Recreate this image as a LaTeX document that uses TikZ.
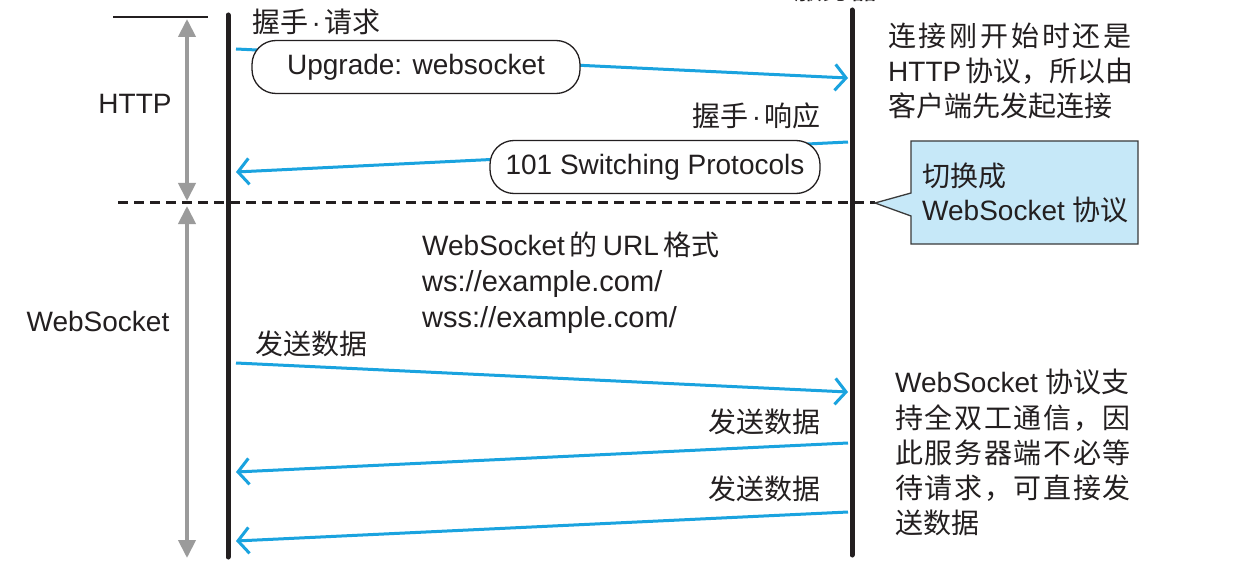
\documentclass[tikz,border=0pt]{standalone}
\usepackage{fontspec}
\setmainfont{Liberation Sans}
\newfontfamily\cjk{Noto Sans CJK SC}
\newfontfamily\cjkj[LetterSpace=10]{Noto Sans CJK SC}
\newfontfamily\cjkk[LetterSpace=6]{Noto Sans CJK SC}
\usetikzlibrary{arrows.meta}
\definecolor{msgcyan}{HTML}{1AA3DF}
\definecolor{inkblack}{HTML}{231F20}
\definecolor{spangray}{HTML}{9B9B9B}
\definecolor{calloutblue}{HTML}{C6E8F8}
\definecolor{calloutedge}{HTML}{3A3A3A}
\newcommand{\mdot}{\kern3.5pt·\kern3.5pt}
\tikzset{
  txt/.style={font=\fontsize{28}{34}\selectfont, inner sep=0pt, text=inkblack},
  urltxt/.style={font=\fontsize{29}{34}\selectfont, inner sep=0pt, text=inkblack},
  lifeline/.style={draw=inkblack, line width=5pt, line cap=round},
  msg/.style={draw=msgcyan, line width=3pt, -{Straight Barb[length=11pt,width=26pt]}},
  span/.style={draw=spangray, line width=4pt, {Triangle[length=18pt,width=17pt]}-{Triangle[length=18pt,width=17pt]}},
  pill/.style={draw=inkblack, line width=1.3pt, rounded corners=24pt, fill=white, minimum height=53pt, inner sep=0pt, font=\fontsize{28}{34}\selectfont, text=inkblack},
  phase/.style={draw=inkblack, line width=3pt, dash pattern=on 10pt off 6pt},
}
\begin{document}
\begin{tikzpicture}[x=1pt,y=-1pt]
\useasboundingbox (0,0) rectangle (1247,572);
\fill[white] (0,0) rectangle (1247,572);

% server label, cut off at the top edge as in the reference
\begin{scope}
\clip (0,0) rectangle (1247,572);
\node[txt, anchor=base] (srvlabel) at (836,0) {\cjk 服务器};
\end{scope}

% phase separator
\coordinate (dashL) at (118,203);
\coordinate (dashR) at (875,203);
\draw[phase] (dashL) -- (dashR);

% lifelines
\coordinate (ctop) at (228,15);
\coordinate (cbot) at (228,557);
\coordinate (stop) at (852,10);
\coordinate (sbot) at (852,555);
\draw[lifeline] (ctop) -- (cbot);
\draw[lifeline] (stop) -- (sbot);

% top tick and phase spans
\coordinate (tickL) at (113,17);
\coordinate (tickR) at (208,17);
\draw[inkblack, line width=2pt] (tickL) -- (tickR);
\coordinate (h1) at (187,19);
\coordinate (h2) at (187,201);
\coordinate (w1) at (187,206);
\coordinate (w2) at (187,558);
\draw[span] (h1) -- (h2);
\draw[span] (w1) -- (w2);
\node[txt] (httplbl) at (135,104) {HTTP};
\node[txt] (wslbl) at (98,321) {WebSocket};

% handshake request
\coordinate (r1s) at (236,49);
\coordinate (r1e) at (848,78);
\draw[msg] (r1s) -- (r1e);
\node[txt, anchor=base west] (reqlbl) at (252,33) {{\cjk 握手}\mdot{\cjk 请求}};
\node[pill, minimum width=328pt] (upg) at (416,67) {Upgrade: websocket};

% handshake response
\coordinate (r2s) at (848,142);
\coordinate (r2e) at (236,172);
\draw[msg] (r2s) -- (r2e);
\node[txt, anchor=base east] (reslbl) at (821,127) {{\cjk 握手}\mdot{\cjk 响应}};
\node[pill, minimum width=330pt] (sw) at (655,167) {101 Switching Protocols};

% note top right
\node[txt, anchor=base west] (n1) at (888,47) {\cjkj 连接刚开始时还是};
\node[txt, anchor=base west] (n2) at (888,82) {HTTP\,{\cjk 协议，所以由}};
\node[txt, anchor=base west] (n3) at (888,117) {\cjk 客户端先发起连接};

% callout
\coordinate (cbA) at (911,141);
\coordinate (cbB) at (1138,141);
\coordinate (cbC) at (1138,244);
\coordinate (cbD) at (911,244);
\coordinate (cbE) at (911,216);
\coordinate (cbTip) at (875,203);
\coordinate (cbF) at (911,193);
\draw[fill=calloutblue, draw=calloutedge, line width=1.3pt, line join=miter]
  (cbA) -- (cbB) -- (cbC) -- (cbD) -- (cbE) -- (cbTip) -- (cbF) -- cycle;
\node[txt, anchor=base west] (c1) at (922,186) {\cjk 切换成};
\node[txt, anchor=base west] (c2) at (922,221) {WebSocket {\cjk 协议}};

% URL format
\node[txt, anchor=base west] (u1) at (422,255) {WebSocket\kern5pt{\cjk 的}\kern5pt URL\kern5pt{\cjk 格式}};
\node[urltxt, anchor=base west] (u2) at (422,291) {ws://example.com/};
\node[urltxt, anchor=base west] (u3) at (422,327) {wss://example.com/};

% data messages
\coordinate (d1s) at (236,363);
\coordinate (d1e) at (848,392);
\draw[msg] (d1s) -- (d1e);
\node[txt, anchor=base west] (d1lbl) at (255,354) {\cjk 发送数据};

\coordinate (d2s) at (848,443);
\coordinate (d2e) at (236,472);
\draw[msg] (d2s) -- (d2e);
\node[txt, anchor=base east] (d2lbl) at (821,432) {\cjk 发送数据};

\coordinate (d3s) at (848,512);
\coordinate (d3e) at (236,541);
\draw[msg] (d3s) -- (d3e);
\node[txt, anchor=base east] (d3lbl) at (821,499) {\cjk 发送数据};

% note bottom right
\node[txt, anchor=base west] (m1) at (895,392) {WebSocket {\cjk 协议支}};
\node[txt, anchor=base west] (m2) at (895,428) {\cjkk 持全双工通信，因};
\node[txt, anchor=base west] (m3) at (895,463) {\cjkk 此服务器端不必等};
\node[txt, anchor=base west] (m4) at (895,498) {\cjkk 待请求，可直接发};
\node[txt, anchor=base west] (m5) at (895,533) {\cjk 送数据};
\end{tikzpicture}
\end{document}
